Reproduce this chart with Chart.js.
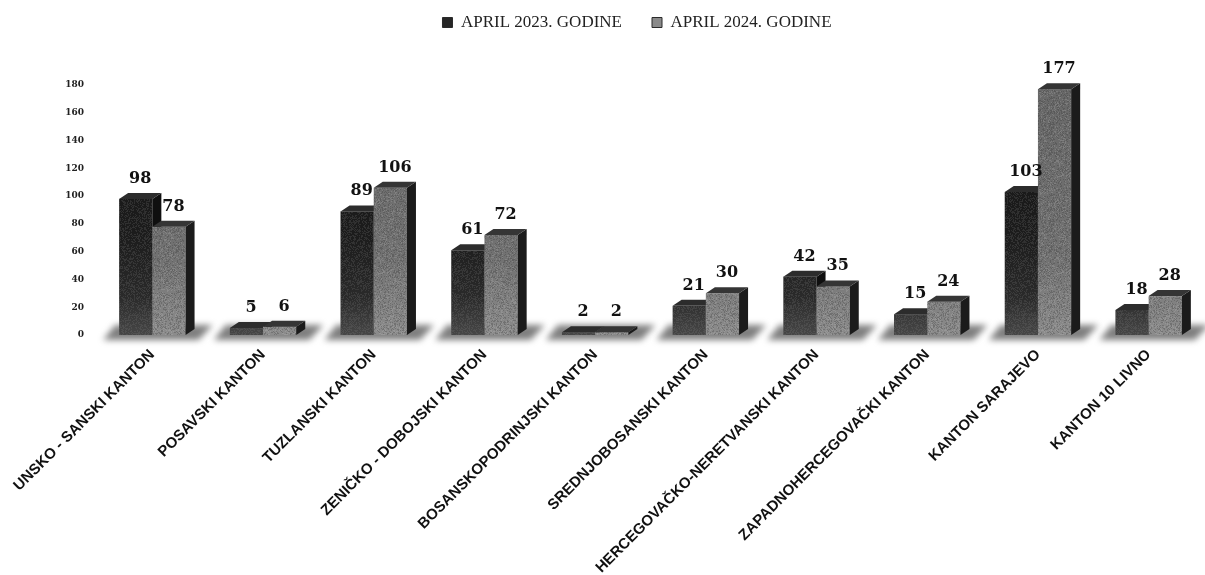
<!DOCTYPE html>
<html>
<head>
<meta charset="utf-8">
<script src="https://cdn.jsdelivr.net/npm/chart.js@4.4.1/dist/chart.umd.min.js"></script>
<style>
  html, body { margin: 0; padding: 0; background: #ffffff; }
  #wrap { width: 1205px; height: 575px; }
</style>
</head>
<body>
<div id="wrap"><canvas id="chart" width="1205" height="575"></canvas></div>
<script>
// Cantons and monthly counts for April of both years
const categories = [
  'UNSKO - SANSKI KANTON',
  'POSAVSKI KANTON',
  'TUZLANSKI KANTON',
  'ZENIČKO - DOBOJSKI KANTON',
  'BOSANSKOPODRINJSKI KANTON',
  'SREDNJOBOSANSKI KANTON',
  'HERCEGOVAČKO-NERETVANSKI KANTON',
  'ZAPADNOHERCEGOVAČKI KANTON',
  'KANTON SARAJEVO',
  'KANTON 10 LIVNO'
];
const april2023 = [98, 5, 89, 61, 2, 21, 42, 15, 103, 18];
const april2024 = [78, 6, 106, 72, 2, 30, 35, 24, 177, 28];
const seriesLabels = ['APRIL 2023. GODINE', 'APRIL 2024. GODINE'];
const yMin = 0;
const yMax = 180;
const yStep = 20;

// depth of the extruded bar faces
const DX = 9;
const DY = 6;

// grainy speckle texture laid over the bar fronts
function makeGrain(size, shade) {
  const c = document.createElement('canvas');
  c.width = c.height = size;
  const g = c.getContext('2d');
  const img = g.createImageData(size, size);
  for (let y = 0; y < size; y++) {
    for (let x = 0; x < size; x++) {
      let h = Math.imul(x, 374761393) + Math.imul(y, 668265263) | 0;
      h = Math.imul(h ^ (h >>> 13), 1274126177);
      h ^= h >>> 16;
      const v = h & 255;
      const i = (y * size + x) * 4;
      if (v < 60) {
        img.data[i] = img.data[i + 1] = img.data[i + 2] = shade;
        img.data[i + 3] = 110;
      } else if (v > 215) {
        img.data[i] = img.data[i + 1] = img.data[i + 2] = 255 - shade;
        img.data[i + 3] = 80;
      }
    }
  }
  g.putImageData(img, 0, 0);
  return c;
}

const darkStyle = {
  stops: [[0, '#141414'], [0.6, '#1c1c1c'], [0.85, '#2a2a2a'], [1, '#474747']],
  top: '#2c2c2c', side: '#0f0f0f', grainShade: 120
};
const lightStyle = {
  stops: [[0, '#686868'], [0.7, '#727272'], [1, '#8c8c8c']],
  top: '#353535', side: '#1b1b1b', grainShade: 40
};
const styles = [darkStyle, lightStyle];

// every face of the 3D bars is painted here, series by series, so the
// right-hand bar of each pair sits in front of the left one's side face
const bars3d = {
  id: 'bars3d',
  beforeDatasetsDraw(chart) {
    const m0 = chart.getDatasetMeta(0);
    const m1 = chart.getDatasetMeta(1);
    const ctx = chart.ctx;
    // soft floor under each pair
    ctx.save();
    ctx.filter = 'blur(3px)';
    ctx.fillStyle = 'rgba(105,105,105,0.85)';
    m0.data.forEach((el0, i) => {
      const p0 = el0.getProps(['x', 'base', 'width'], true);
      const p1 = m1.data[i].getProps(['x', 'width'], true);
      const l = p0.x - p0.width / 2;
      const r = p1.x + p1.width / 2 + DX;
      const b = p0.base;
      ctx.beginPath();
      ctx.moveTo(l - 16, b + 5);
      ctx.lineTo(r + 4, b + 5);
      ctx.lineTo(r + 18, b - DY - 4);
      ctx.lineTo(l - 4, b - DY - 4);
      ctx.closePath();
      ctx.fill();
    });
    ctx.restore();
  },
  afterDatasetsDraw(chart) {
    const ctx = chart.ctx;
    const area = chart.chartArea;
    ctx.save();
    styles.forEach((style, di) => {
      if (!style.grain) style.grain = ctx.createPattern(makeGrain(97, style.grainShade), 'repeat');
      if (!style.fill) {
        const g = ctx.createLinearGradient(0, area.top, 0, area.bottom);
        style.stops.forEach(([o, col]) => g.addColorStop(o, col));
        style.fill = g;
      }
      chart.getDatasetMeta(di).data.forEach((el) => {
        const { x, y, base, width } = el.getProps(['x', 'y', 'base', 'width'], true);
        const l = x - width / 2;
        const r = x + width / 2;
        // front face
        ctx.fillStyle = style.fill;
        ctx.fillRect(l, y, width, base - y);
        ctx.globalAlpha = 0.55;
        ctx.fillStyle = style.grain;
        ctx.fillRect(l, y, width, base - y);
        ctx.globalAlpha = 1;
        // right side face
        ctx.fillStyle = style.side;
        ctx.beginPath();
        ctx.moveTo(r, y);
        ctx.lineTo(r + DX, y - DY);
        ctx.lineTo(r + DX, base - DY);
        ctx.lineTo(r, base);
        ctx.closePath();
        ctx.fill();
        // top face
        ctx.fillStyle = style.top;
        ctx.beginPath();
        ctx.moveTo(l, y);
        ctx.lineTo(l + DX, y - DY);
        ctx.lineTo(r + DX, y - DY);
        ctx.lineTo(r, y);
        ctx.closePath();
        ctx.fill();
      });
    });
    // value labels above each bar
    ctx.font = 'bold 16px "DejaVu Serif"';
    ctx.fillStyle = '#121212';
    ctx.textAlign = 'center';
    ctx.textBaseline = 'alphabetic';
    chart.data.datasets.forEach((ds, di) => {
      chart.getDatasetMeta(di).data.forEach((el, i) => {
        const { x, y } = el.getProps(['x', 'y'], true);
        ctx.fillText(String(ds.data[i]), x + DX / 2, y - DY - 10);
      });
    });
    ctx.restore();
  }
};

const legendPlacement = {
  id: 'legendPlacement',
  beforeLayout(chart) {
    const lg = chart.legend;
    if (!lg || lg._patched) return;
    const fit = lg.fit.bind(lg);
    lg.fit = function () { fit(); this.height += 28; };
    lg._patched = true;
  },
  afterLayout(chart) {
    const lg = chart.legend;
    lg.top -= 16; lg.bottom -= 16;
    lg.left += 35; lg.right += 35;
  }
};

new Chart(document.getElementById('chart'), {
  type: 'bar',
  data: {
    labels: categories,
    datasets: [
      { label: seriesLabels[0], data: april2023, backgroundColor: 'rgba(0,0,0,0)', borderWidth: 0,
        categoryPercentage: 0.6, barPercentage: 1 },
      { label: seriesLabels[1], data: april2024, backgroundColor: 'rgba(0,0,0,0)', borderWidth: 0,
        categoryPercentage: 0.6, barPercentage: 1 }
    ]
  },
  options: {
    responsive: false,
    animation: false,
    devicePixelRatio: 1,
    layout: { padding: { left: 0, right: 1, top: 0, bottom: 0 } },
    plugins: {
      legend: {
        position: 'top',
        labels: {
          boxWidth: 10,
          boxHeight: 10,
          padding: 30,
          color: '#222222',
          font: { family: '"Liberation Serif"', size: 17 },
          generateLabels(chart) {
            const items = Chart.defaults.plugins.legend.labels.generateLabels(chart);
            const fills = ['#262626', '#8a8a8a'];
            items.forEach((it, i) => {
              it.fillStyle = fills[i];
              it.strokeStyle = '#2a2a2a';
              it.lineWidth = 1;
            });
            return items;
          }
        }
      },
      tooltip: { enabled: false }
    },
    scales: {
      x: {
        grid: { display: false, drawTicks: false },
        border: { display: false },
        ticks: {
          autoSkip: false,
          minRotation: 45,
          maxRotation: 45,
          padding: 11,
          color: '#111111',
          font: { family: '"Liberation Sans"', size: 15, weight: 'bold' }
        },
        afterFit(scale) { scale.height = 240; }
      },
      y: {
        min: yMin,
        max: yMax,
        grid: { display: false, drawTicks: false },
        border: { display: false },
        ticks: {
          stepSize: yStep,
          padding: 13,
          color: '#222222',
          font: { family: '"DejaVu Serif"', size: 9, weight: 'bold' }
        },
        afterFit(scale) { scale.width = 97; }
      }
    }
  },
  plugins: [bars3d, legendPlacement]
});
</script>
</body>
</html>
